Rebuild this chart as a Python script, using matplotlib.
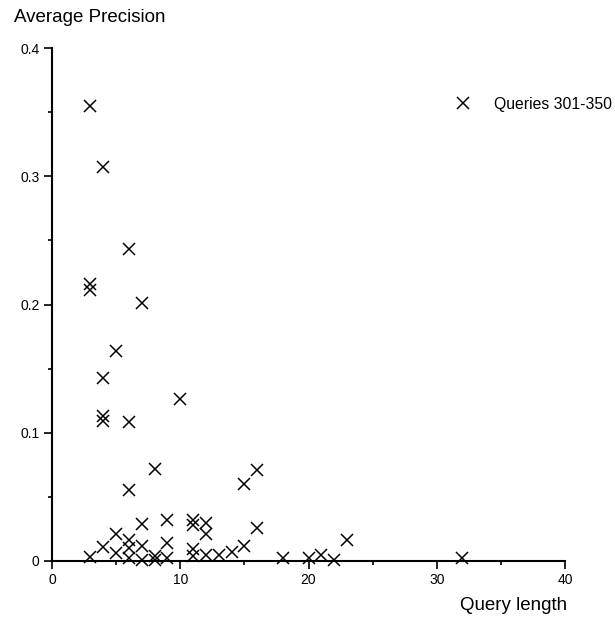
import matplotlib
matplotlib.use("Agg")
import matplotlib.pyplot as plt
from matplotlib.ticker import MultipleLocator

plt.rcParams['font.family'] = ['Liberation Sans', 'DejaVu Sans']

# query length vs average precision, queries 301-350
qlen = [3, 4, 6, 3, 3, 7, 5, 4, 10, 4, 4, 6, 8, 16, 15, 6,
        3, 4, 5, 5, 6, 6, 6, 7, 7, 7, 8, 8,
        9, 9, 9, 11, 11, 12, 12, 11, 11, 12, 13, 14, 15, 16,
        18, 20, 21, 22, 23, 32]
avg_prec = [0.355, 0.307, 0.243, 0.216, 0.211, 0.201, 0.164, 0.143, 0.126, 0.113, 0.109, 0.108, 0.072, 0.071, 0.060, 0.055,
            0.003, 0.011, 0.021, 0.006, 0.016, 0.010, 0.002, 0.029, 0.012, 0.001, 0.004, 0.001,
            0.032, 0.014, 0.002, 0.032, 0.028, 0.030, 0.021, 0.009, 0.004, 0.005, 0.005, 0.007, 0.012, 0.026,
            0.002, 0.002, 0.005, 0.001, 0.016, 0.002]

x_ticks = [0, 10, 20, 30, 40]
y_ticks = [0, 0.1, 0.2, 0.3, 0.4]
y_labels = ['0', '0.1', '0.2', '0.3', '0.4']

fig = plt.figure(figsize=(6.15, 6.23), dpi=100)
ax = fig.add_axes([52/615, 62/623, 513/615, 513/623])

ax.plot(qlen, avg_prec, linestyle='none', marker='x', color='black',
        markersize=9, markeredgewidth=1.1, label='Queries 301-350', clip_on=False)

ax.set_xlim(0, 40)
ax.set_ylim(0, 0.4)
ax.set_xticks(x_ticks)
ax.set_xticklabels([str(v) for v in x_ticks])
ax.set_yticks(y_ticks)
ax.set_yticklabels(y_labels)
ax.xaxis.set_minor_locator(MultipleLocator(5))
ax.yaxis.set_minor_locator(MultipleLocator(0.05))

for s in ['top', 'right']:
    ax.spines[s].set_visible(False)
for s in ['left', 'bottom']:
    ax.spines[s].set_linewidth(1.5)
ax.tick_params(which='major', length=6, width=1.2, labelsize=10, pad=3)
ax.tick_params(which='minor', length=3, width=1.2)

fig.text(14/615, 1 - 18/623, 'Average Precision', fontsize=13.5, ha='left', va='center')
fig.text(567/615, 1 - 606/623, 'Query length', fontsize=13.5, ha='right', va='center')

ax.legend(loc='center right', bbox_to_anchor=(612/615, 1 - 104/623), bbox_transform=fig.transFigure,
          frameon=False, fontsize=11.3, handlelength=1.2, handletextpad=1.4, borderpad=0, borderaxespad=0)

fig.savefig('out.png', dpi=100)
